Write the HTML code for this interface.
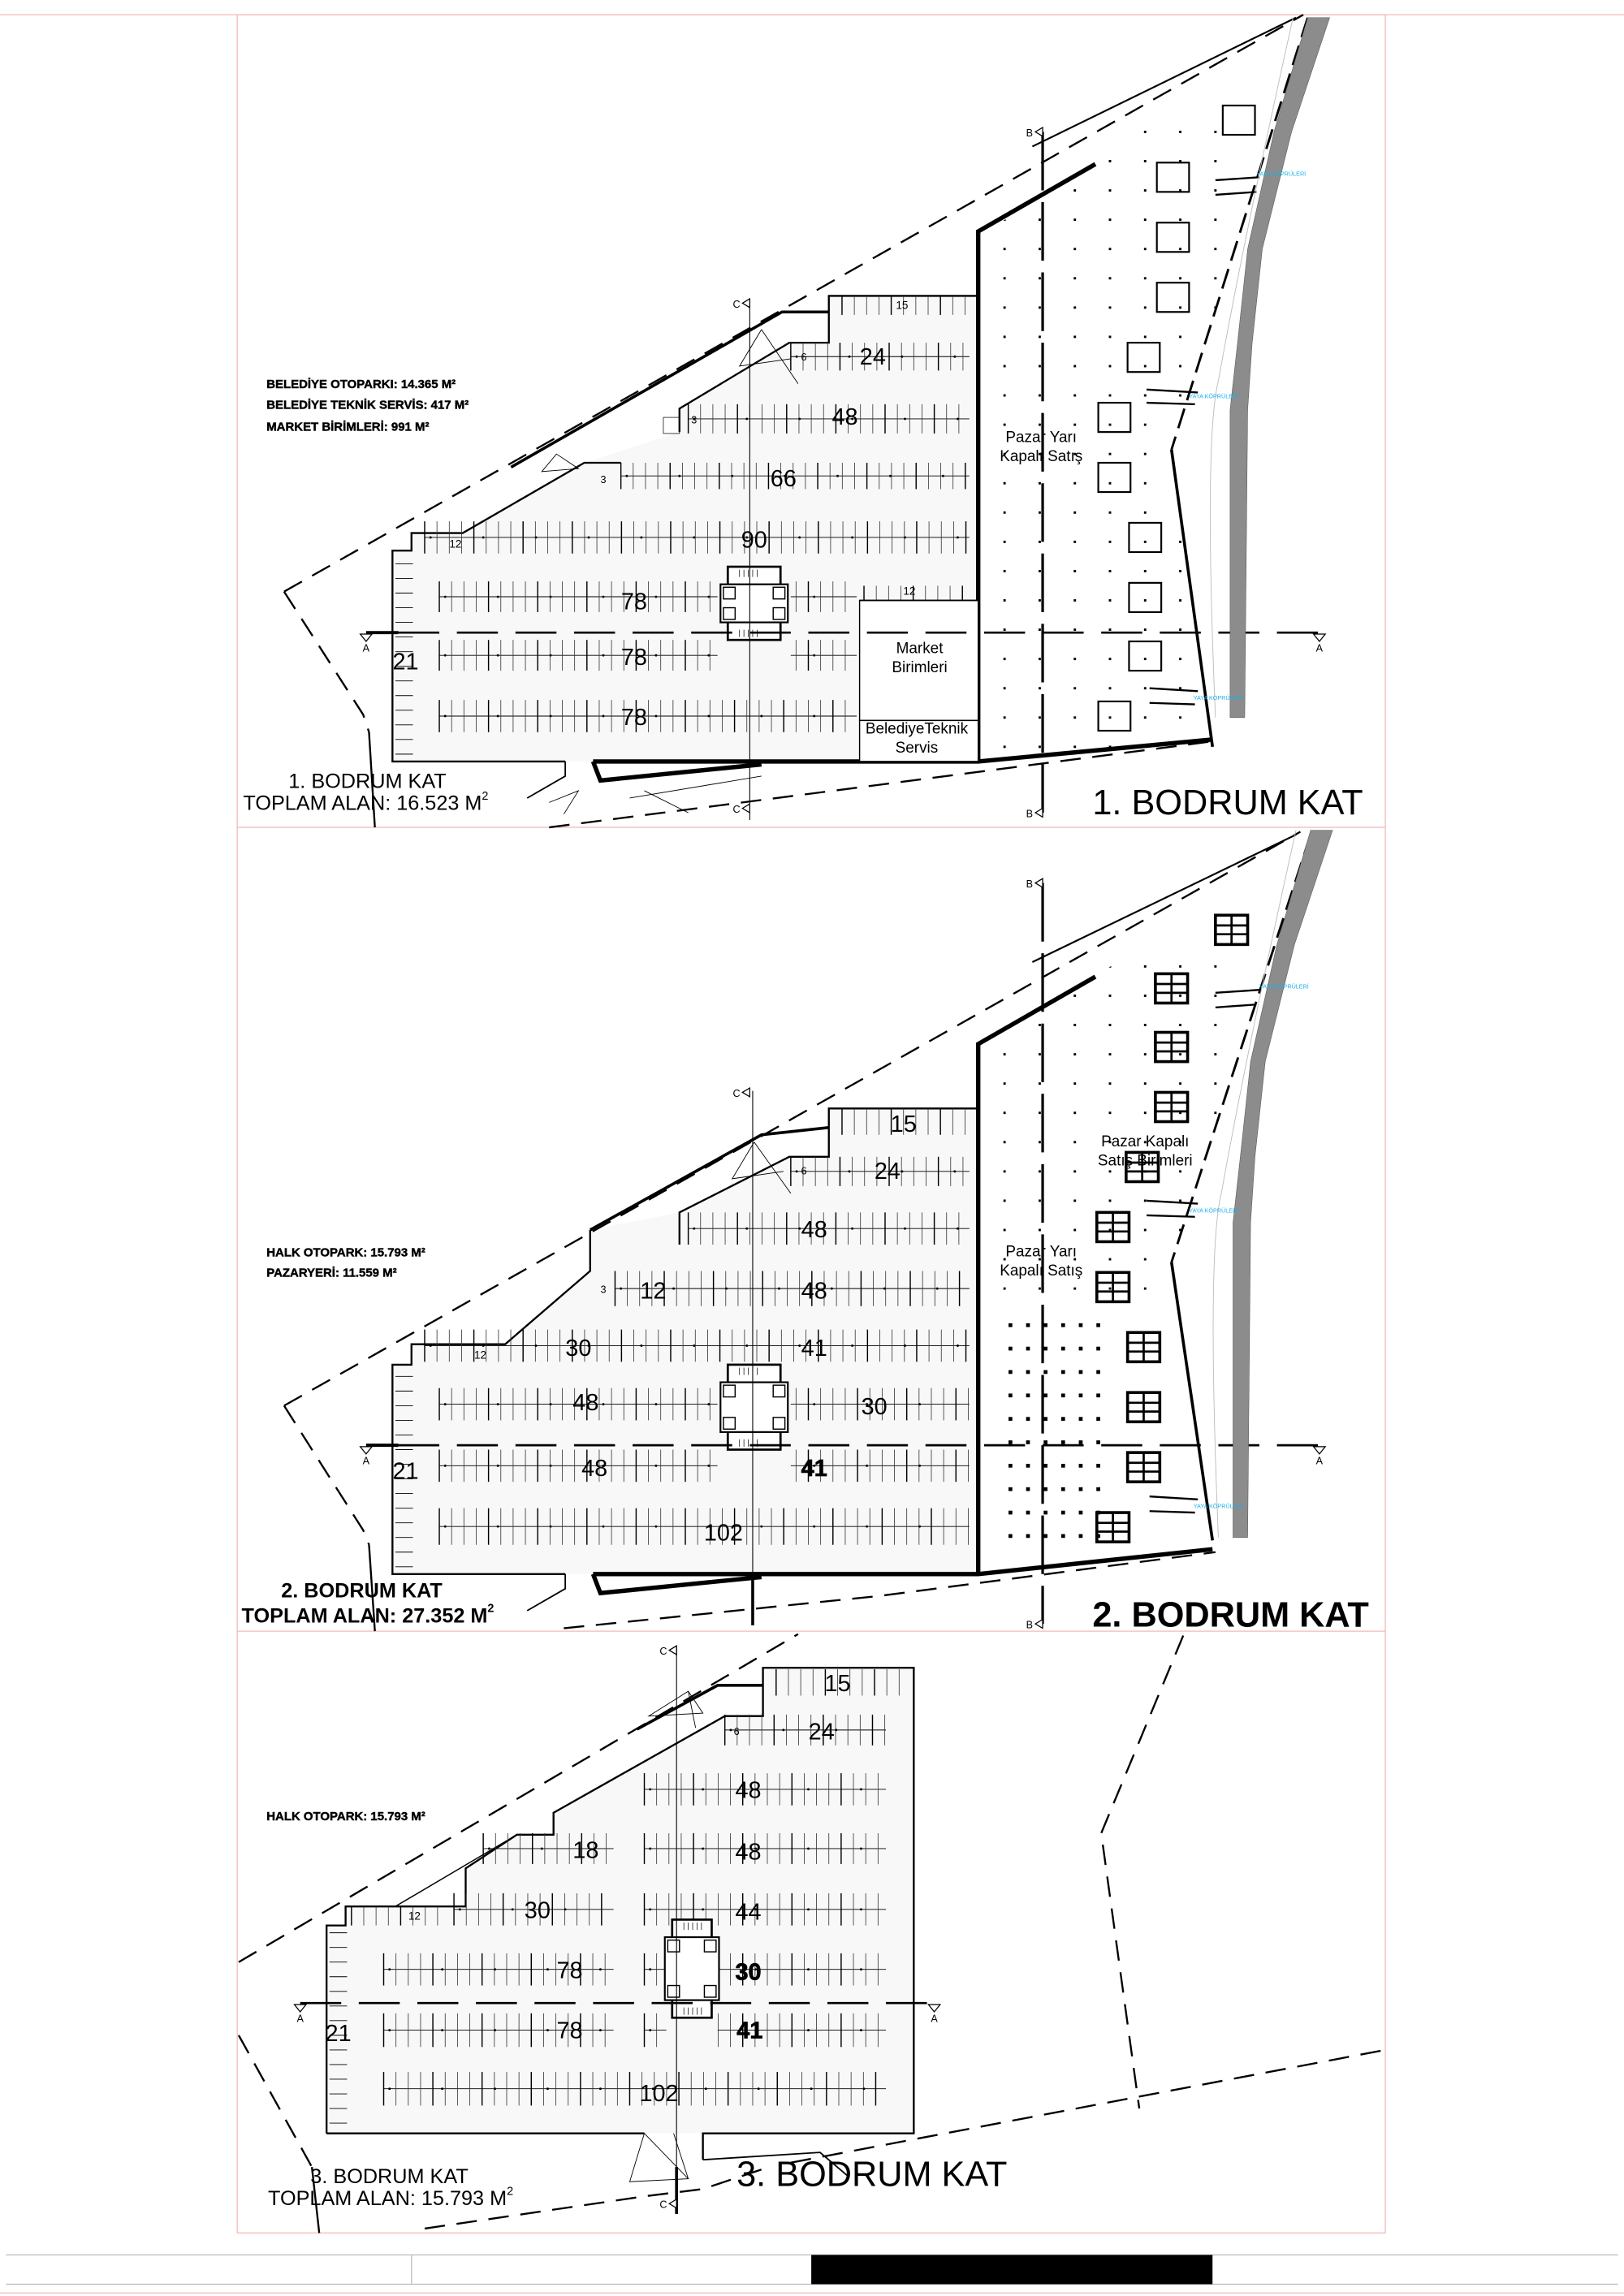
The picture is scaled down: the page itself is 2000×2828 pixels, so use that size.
<!DOCTYPE html>
<html><head><meta charset="utf-8">
<style>
html,body{margin:0;padding:0;background:#fff}
svg{display:block}
text{font-family:"Liberation Sans",sans-serif}
</style></head>
<body>
<svg id="s" width="2000" height="2828" viewBox="0 0 1109 1568" xmlns="http://www.w3.org/2000/svg">
<defs>
<clipPath id="m1"><polygon points="670,160 748,112 888,14 893,14 800,307 826,505 670,518"/></clipPath>
<clipPath id="m2"><polygon points="670,715 748,667 888,572 893,572 800,862 826,1050 670,1073"/></clipPath>
</defs>
<rect x="0" y="0" width="1109" height="1568" fill="#fff"/>
<g fill="none" stroke="#f4b8b8" stroke-width="0.7">
<line x1="0" y1="10" x2="1109" y2="10"/>
<rect x="162" y="10" width="784" height="1515"/>
<line x1="162" y1="565" x2="946" y2="565"/>
<line x1="162" y1="1114" x2="946" y2="1114"/>
<line x1="0" y1="1566" x2="1109" y2="1566"/>
</g>
<g stroke="#bbb" stroke-width="0.7">
<line x1="4" y1="1540" x2="1105" y2="1540"/>
<line x1="4" y1="1560" x2="1105" y2="1560"/>
<line x1="281" y1="1540" x2="281" y2="1560"/>
</g>
<rect x="554" y="1540" width="274" height="20" fill="#000"/>

<g fill="#f8f8f8" stroke="none">
<polygon points="268,520 268,376 281,376 281,364 316,364 399,316 464,295 464,279 539,234 566,234 566,202 668,202 668,520"/>
<polygon points="268,1075 268,932 281,932 281,918 345,918 403,868 403,840 464,828 539,790 566,790 566,757 668,757 668,1075"/>
<polygon points="223,1457 223,1315 236,1315 236,1302 318,1302 318,1276 353,1253 378,1253 378,1238 495,1172 521,1172 521,1139 624,1139 624,1457"/>
</g>

<g id="g" fill="none" stroke="#000"></g>

<g fill="#8c8c8c" stroke="#555" stroke-width="0.3">
<polygon points="893,12 870,90 852,170 845,235 840,280 840,490 850,490 852,280 855,235 862,170 882,90 908,12"/>
<polygon points="895,567 872,645 854,725 847,790 842,835 842,1050 852,1050 854,835 857,790 864,725 884,645 910,567"/>
</g>
<g fill="none" stroke="#bbb" stroke-width="0.5">
<path d="M883 12 Q850 160 832 260 Q822 300 830 490"/>
<path d="M885 567 Q852 715 834 815 Q824 855 832 1050"/>
</g>

<g font-size="8.3" font-weight="bold" fill="#000" stroke="#000" stroke-width="0.25">
<text x="182" y="265">BELEDİYE OTOPARKI: 14.365 M²</text>
<text x="182" y="279">BELEDİYE TEKNİK SERVİS: 417 M²</text>
<text x="182" y="294">MARKET BİRİMLERİ: 991 M²</text>
<text x="182" y="858">HALK OTOPARK: 15.793 M²</text>
<text x="182" y="872">PAZARYERİ: 11.559 M²</text>
<text x="182" y="1243">HALK OTOPARK: 15.793 M²</text>
</g>
<g font-size="14" fill="#000">
<text x="197" y="538">1. BODRUM KAT</text>
<text x="166" y="553">TOPLAM ALAN: 16.523 M<tspan font-size="8" dy="-7">2</tspan></text>
<text x="212" y="1491">3. BODRUM KAT</text>
<text x="183" y="1506">TOPLAM ALAN: 15.793 M<tspan font-size="8" dy="-7">2</tspan></text>
</g>
<g font-size="14" fill="#000" font-weight="bold">
<text x="192" y="1091">2. BODRUM KAT</text>
<text x="165" y="1108">TOPLAM ALAN: 27.352 M<tspan font-size="8" dy="-7">2</tspan></text>
</g>
<g font-size="24" fill="#000">
<text x="746" y="556">1. BODRUM KAT</text>
<text x="746" y="1111" font-weight="bold">2. BODRUM KAT</text>
<text x="503" y="1493">3. BODRUM KAT</text>
</g>
<g font-size="10.5" fill="#000" text-anchor="middle">
<text x="711" y="302">Pazar Yarı</text>
<text x="711" y="315">Kapalı Satış</text>
<text x="628" y="446">Market</text>
<text x="628" y="459">Birimleri</text>
<text x="626" y="501">BelediyeTeknik</text>
<text x="626" y="514">Servis</text>
<text x="711" y="858">Pazar Yarı</text>
<text x="711" y="871">Kapalı Satış</text>
<text x="782" y="783">Pazar Kapalı</text>
<text x="782" y="796">Satış Birimleri</text>
</g>
<g font-size="4" fill="#1ab0e8">
<text x="858" y="120">YAYA KÖPRÜLERİ</text>
<text x="812" y="272">YAYA KÖPRÜLERİ</text>
<text x="815" y="478">YAYA KÖPRÜLERİ</text>
<text x="860" y="675">YAYA KÖPRÜLERİ</text>
<text x="812" y="828">YAYA KÖPRÜLERİ</text>
<text x="815" y="1030">YAYA KÖPRÜLERİ</text>
</g>
<g id="nums" fill="#000" text-anchor="middle"></g>
</svg>
<script>
var NS="http://www.w3.org/2000/svg",G=document.getElementById('g'),N=document.getElementById('nums');
function e(t,a,p){var x=document.createElementNS(NS,t);for(var k in a)x.setAttribute(k,a[k]);(p||G).appendChild(x);return x;}
function L(x1,y1,x2,y2,w,d,c){var o={x1:x1,y1:y1,x2:x2,y2:y2,'stroke-width':w||0.5};if(d)o['stroke-dasharray']=d;if(c)o.stroke=c;e('line',o);}
function P(d,w,da){var o={d:d,'stroke-width':w||1};if(da)o['stroke-dasharray']=da;e('path',o);}
function T(x,y,s,t,b){var o={x:x,y:y,'font-size':s};if(b){o['font-weight']='bold';o.stroke='#000';o['stroke-width']=0.4;}var q=e('text',o,N);q.textContent=t;}
function row(x1,x2,y1,y2,gaps,single){gaps=gaps||[];var m=(y1+y2)/2;
 function ing(x){for(var i=0;i<gaps.length;i++)if(x>gaps[i][0]&&x<gaps[i][1])return true;return false;}
 var segs=[],s=x1;for(var i=0;i<gaps.length;i++){segs.push([s,gaps[i][0]]);s=gaps[i][1];}segs.push([s,x2]);
 if(!single)segs.forEach(function(g){L(g[0],m,g[1],m,0.5);});
 var k=0;for(var x=x1;x<=x2;x+=8.4){if(ing(x))continue;L(x,y1,x,y2,(k%4==0)?0.8:0.45,null,(k%4==0)?'#000':'#333');k++;}
 for(var x=x1+4;x<=x2;x+=36){if(!ing(x)&&!single)e('circle',{cx:x,cy:m,r:0.8,fill:'#000',stroke:'none'});}
}
function wallTicks(x,y1,y2){for(var y=y1;y<=y2;y+=10)L(x,y,x+12,y,0.5);}
function dots(cl,x1,x2,y1,y2,dx,dy,r){var g=e('g',{'clip-path':'url(#'+cl+')',fill:'#000',stroke:'none'});for(var x=x1;x<=x2;x+=dx)for(var y=y1;y<=y2;y+=dy)e('rect',{x:x-r/2,y:y-r/2,width:r,height:r},g);}
function box(x,y,grid){e('rect',{x:x,y:y,width:22,height:20,'stroke-width':grid?2:1.2});if(grid){L(x+11,y,x+11,y+20,1.5);L(x,y+7,x+22,y+7,1.5);L(x,y+13,x+22,y+13,1.5);}}
function core(x,y,w,h){e('rect',{x:x,y:y,width:w,height:h,'stroke-width':1.5,fill:'#fff'});e('rect',{x:x-5,y:y+12,width:w+10,height:h-24,'stroke-width':1.2,fill:'#fff'});
 [[x-3,y+14],[x+w-5,y+14],[x-3,y+h-22],[x+w-5,y+h-22]].forEach(function(p){e('rect',{x:p[0],y:p[1],width:8,height:8,'stroke-width':0.8});});
 for(var i=0;i<5;i++){L(x+8+i*3,y+2,x+8+i*3,y+7,0.4);L(x+8+i*3,y+h-7,x+8+i*3,y+h-2,0.4);}}
function secMark(x,y,lab){var q=e('text',{x:x-9,y:y+3,'font-size':7},N);q.textContent=lab;e('polygon',{points:(x-5)+','+y+' '+(x)+','+(y-3)+' '+(x)+','+(y+3),'stroke-width':0.7,fill:'#fff'});}
function aMark(x,y){e('polygon',{points:(x-4)+','+y+' '+(x+4)+','+y+' '+x+','+(y+5),'stroke-width':0.7,fill:'#fff'});var q=e('text',{x:x,y:y+12,'font-size':7},N);q.textContent='A';}

/* LEVEL 1 */
P('M885 12 L705 100',1.2);
P('M194 404 L890 10',1.3,'14 8');
P('M194 404 L248 488 L252 500',1.3,'14 8');P('M252 500 L256 565',1.3);
P('M375 565 L600 536 L830 506',1.3,'14 8');
P('M893 12 L800 307',1.6,'14 6');P('M800 307 L828 510',2);
P('M668 520 L668 158 L748 112',3);
P('M405 520 L668 520 L828 505',3);
P('M405 520 L410 533 L520 522',3);
P('M386 520 L268 520 L268 376 L281 376 L281 364 L316 364 L399 316 L424 316',1.3);
P('M464 295 L464 279 L539 234 L566 234 L566 202 L668 202',1.3);
P('M349 319 L534 213 L566 213',2);
P('M386 520 L386 530 L360 545',1);
P('M520 225 L545 262 M520 225 L505 250 L540 245',0.5);
P('M370 322 L380 310 L395 320 Z',0.5);
P('M375 548 L395 540 L385 556',0.5);
P('M430 545 L520 530 M440 540 L470 555',0.5);
e('rect',{x:453,y:285,width:11,height:11,'stroke-width':0.4});
row(575,665,202,215,null,true);
row(540,662,234,253);
row(470,662,276,296);
row(424,662,316,334);
row(290,662,356,378);
row(300,585,397,418,[[490,540]]);
row(590,665,400,410,null,true);
row(300,585,437,458,[[490,540]]);
row(300,585,478,500);
wallTicks(270,385,515);
core(497,387,36,50);
e('rect',{x:587,y:410,width:81,height:82,'stroke-width':0.8,fill:'#fff'});
e('rect',{x:587,y:492,width:81,height:28,'stroke-width':0.8,fill:'#fff'});
L(587,410,668,410,1);
dots('m1',686,830,90,512,24,20,1.6);
[[835,72],[790,111],[790,152],[790,193],[770,234],[750,275],[750,316],[771,357],[771,398],[771,438],[750,479]].forEach(function(p){box(p[0],p[1]);});
L(830,123,860,121,1.3);L(830,133,858,131,1.3);
L(783,266,818,268,1.3);L(783,275,816,276,1.3);
L(785,470,818,472,1.3);L(785,480,816,481,1.3);
L(250,432,272,432,2.2);L(272,432,900,432,1.5,'28 12');
aMark(250,433);aMark(901,433);
L(512,205,512,560,0.6);secMark(512,207,'C');secMark(512,552,'C');
L(712,90,712,555,1.8,'40 8');secMark(712,90,'B');secMark(712,555,'B');
T(616,211,7.5,'15');T(549,246,7,'6');T(596,249,16,'24');T(474,289,7,'3');T(577,290,16,'48');
T(412,330,7,'3');T(535,332,16,'66');T(515,374,16,'90');T(311,374,7.5,'12');T(621,406,7.5,'12');
T(433,416,16,'78');T(433,454,16,'78');T(277,457,16,'21');T(433,495,16,'78');

/* LEVEL 2 */
P('M885 570 L705 657',1.2);
P('M194 960 L888 568',1.3,'14 8');
P('M194 960 L248 1045 L252 1055',1.3,'14 8');P('M252 1055 L256 1114',1.3);
P('M385 1112 L600 1090 L830 1060',1.3,'14 8');
P('M895 570 L800 862',1.6,'14 6');P('M800 862 L828 1052',2);
P('M668 1075 L668 713 L748 667',3);
P('M405 1075 L668 1075 L828 1058',3);
P('M405 1075 L410 1088 L520 1077',3);
P('M386 1075 L268 1075 L268 932 L281 932 L281 918 L345 918 L403 868 L403 840',1.3);
P('M464 850 L464 828 L539 790 L566 790 L566 757 L668 757',1.3);
P('M403 840 L520 775 L566 770',2);
P('M386 1075 L386 1085 L360 1100',1);
P('M515 780 L540 815 M515 780 L500 805 L535 800',0.5);
row(575,662,757,775,null,true);
row(540,662,790,810);
row(470,662,828,850);
row(420,662,868,892);
row(290,662,908,930);
row(300,662,948,970,[[490,540]]);
row(300,662,990,1012,[[490,540]]);
row(300,662,1030,1055);
wallTicks(270,940,1070);
core(497,932,36,58);
dots('m2',686,830,660,880,24,20,1.6);
dots('m2',690,750,905,1062,12,16,2.6);
[[830,625],[789,665],[789,705],[789,746],[769,787],[749,828],[749,869],[770,910],[770,951],[770,992],[749,1033]].forEach(function(p){box(p[0],p[1],true);});
L(830,678,860,676,1.3);L(830,688,858,686,1.3);
L(783,820,818,822,1.3);L(783,830,816,831,1.3);
L(785,1022,818,1024,1.3);L(785,1032,816,1033,1.3);
L(250,987,272,987,2.2);L(272,987,900,987,1.5,'28 12');
aMark(250,988);aMark(901,988);
L(514,745,514,1110,0.6);L(514,1075,514,1110,2);secMark(512,746,'C');
L(712,603,712,1109,1.8,'40 8');secMark(712,603,'B');secMark(712,1109,'B');
T(617,773,16,'15');T(549,802,7,'6');T(606,805,16,'24');T(556,845,16,'48');T(412,883,7,'3');
T(446,887,16,'12');T(556,887,16,'48');T(328,928,7.5,'12');T(395,926,16,'30');T(556,926,16,'41');
T(400,963,16,'48');T(597,966,16,'30');T(277,1010,16,'21');T(406,1008,16,'48');T(556,1008,16,'41',true);T(494,1052,16,'102');

/* LEVEL 3 */
P('M163 1340 L545 1116',1.3,'14 8');
P('M163 1390 L213 1480',1.3,'14 8');P('M213 1480 L218 1525',1.3);
P('M808 1117 L752 1252 L778 1440',1.3,'14 8');
P('M290 1522 L440 1500 L480 1495 L525 1480 M540 1477 L946 1400',1.3,'14 8');
P('M223 1457 L223 1315 L236 1315 L236 1302 L318 1302 L318 1276 L353 1253 L378 1253 L378 1238 L495 1172 L521 1172 L521 1139 L624 1139 L624 1457 L480 1457 L480 1475 M440 1457 L223 1457',1.3);
P('M270 1302 L353 1253',0.8);
P('M435 1181 L490 1151 L521 1151',2);
P('M443 1172 L470 1155 L480 1170 Z M470 1155 L475 1180',0.5);
P('M440 1457 L430 1490 L470 1488 L440 1457 M470 1488 L460 1457',0.5);
P('M480 1475 L560 1470 L580 1487',1);
row(530,620,1140,1158,null,true);
row(495,605,1171,1192);
row(440,605,1211,1233);
row(330,419,1252,1273);row(440,605,1252,1273);
row(240,300,1302,1315,null,true);row(310,419,1293,1315);row(440,605,1293,1315);
row(262,419,1334,1356);row(440,605,1334,1356,[[455,490]]);
row(262,419,1375,1398);row(440,605,1375,1398,[[455,490]]);
row(262,605,1415,1438);
wallTicks(225,1320,1452);
core(459,1311,27,67);
L(205,1368,640,1368,1.5,'28 12');
aMark(205,1369);aMark(638,1369);
L(462,1125,462,1510,0.6);L(462,1480,462,1512,2);secMark(462,1127,'C');secMark(462,1505,'C');
T(572,1155,16,'15');T(503,1185,7,'6');T(561,1188,16,'24');T(511,1228,16,'48');
T(400,1269,16,'18');T(511,1270,16,'48');T(283,1311,7.5,'12');T(367,1310,16,'30');T(511,1311,16,'44');
T(389,1351,16,'78');T(511,1352,16,'30',true);T(231,1394,16,'21');T(389,1392,16,'78');T(512,1392,16,'41',true);T(450,1435,16,'102');
</script>
</body></html>
